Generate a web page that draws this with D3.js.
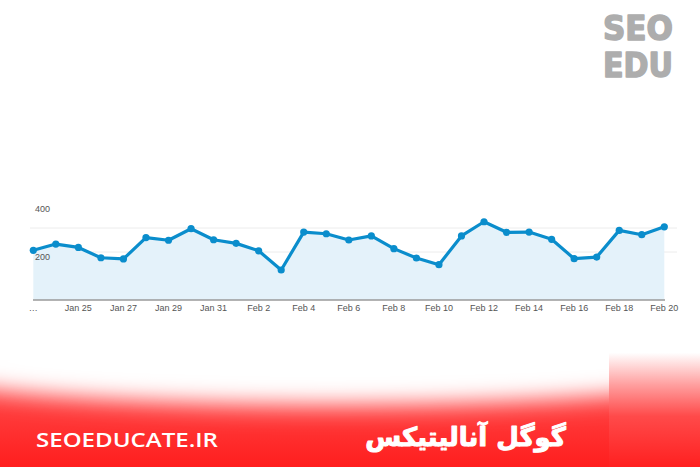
<!DOCTYPE html>
<html><head><meta charset="utf-8">
<script src="https://cdn.jsdelivr.net/npm/d3@7"></script>
<style>html,body{margin:0;padding:0;background:#fff;}svg{display:block;}</style>
</head><body>
<script>
const days = ["Jan 23","Jan 24","Jan 25","Jan 26","Jan 27","Jan 28","Jan 29","Jan 30","Jan 31",
  "Feb 1","Feb 2","Feb 3","Feb 4","Feb 5","Feb 6","Feb 7","Feb 8","Feb 9","Feb 10","Feb 11",
  "Feb 12","Feb 13","Feb 14","Feb 15","Feb 16","Feb 17","Feb 18","Feb 19","Feb 20"];
const sessions = [207,233,219,176,171,260,249,297,251,236,205,125,283,276,250,267,214,175,147,267,326,282,283,253,172,179,290,272,305];
const xTickDays = ["Jan 23","Jan 25","Jan 27","Jan 29","Jan 31","Feb 2","Feb 4","Feb 6","Feb 8","Feb 10","Feb 12","Feb 14","Feb 16","Feb 18","Feb 20"];
const xTickText = ["…","Jan 25","Jan 27","Jan 29","Jan 31","Feb 2","Feb 4","Feb 6","Feb 8","Feb 10","Feb 12","Feb 14","Feb 16","Feb 18","Feb 20"];
const yTickLabels = [400, 200];
const gridValues = [300, 200];
const logoLines = ["SEO","EDU"];
const siteText = "SEOEDUCATE.IR";
const titleText = "گوگل آنالیتیکس";

const W = 700, H = 467;
const svg = d3.select("body").append("svg").attr("width", W).attr("height", H);
const defs = svg.append("defs");

svg.append("rect").attr("width", W).attr("height", H).attr("fill", "#fff");

const g1 = defs.append("linearGradient").attr("id","redg").attr("x1",0).attr("y1",0).attr("x2",0).attr("y2",1);
[[0,"#ff6a6a"],[0.5,"#ff3a3a"],[1,"#ff1e1e"]].forEach(([o,c])=>g1.append("stop").attr("offset",o).attr("stop-color",c));
const g2 = defs.append("linearGradient").attr("id","redr").attr("x1",0).attr("y1",0).attr("x2",0).attr("y2",1);
[[0,"#ffffff"],[0.1,"#ffffff"],[0.35,"#ffa0a0"],[0.6,"#ff4a4a"],[1,"#ff2020"]].forEach(([o,c])=>g2.append("stop").attr("offset",o).attr("stop-color",c));

const blur = defs.append("filter").attr("id","bl").attr("x","-50%").attr("y","-50%").attr("width","200%").attr("height","200%");
blur.append("feGaussianBlur").attr("stdDeviation",13);
const clipL = defs.append("clipPath").attr("id","clipL");
clipL.append("rect").attr("x",0).attr("y",0).attr("width",609).attr("height",H);

const left = svg.append("g").attr("clip-path","url(#clipL)");
left.append("rect").attr("x",0).attr("y",360).attr("width",609).attr("height",H-360).attr("fill","url(#redg)");
left.append("rect").attr("x",0).attr("y",0).attr("width",609).attr("height",355).attr("fill","#fff");
left.append("ellipse").attr("cx",330).attr("cy",362).attr("rx",420).attr("ry",42)
  .attr("fill","#fff").attr("filter","url(#bl)");
left.append("ellipse").attr("cx",330).attr("cy",345).attr("rx",480).attr("ry",40)
  .attr("fill","#fff").attr("filter","url(#bl)");
svg.append("rect").attr("x",609).attr("y",340).attr("width",W-609).attr("height",H-340).attr("fill","url(#redr)");

// chart
const x = d3.scalePoint().domain(days).range([33.3, 664.3]);
const y = d3.scaleLinear().domain([0, 400]).range([300, 204]);

svg.append("g").selectAll("line").data(gridValues).join("line")
  .attr("x1", 30).attr("x2", 677).attr("y1", d=>y(d)).attr("y2", d=>y(d))
  .attr("stroke", "#ececec").attr("stroke-width", 1);

const area = d3.area().x((d,i)=>x(days[i])).y0(y(0)).y1(d=>y(d));
svg.append("path").datum(sessions).attr("d", area).attr("fill", "#e4f2fa");

svg.append("g").selectAll("text").data(yTickLabels).join("text")
  .attr("x", 35).attr("y", d=>y(d)+8).text(d=>d)
  .attr("font-family","Liberation Sans, Arial, sans-serif").attr("font-size",9).attr("fill","#555");

svg.append("line").attr("x1",33).attr("x2",665).attr("y1",y(0)).attr("y2",y(0))
  .attr("stroke","#9a9a9a").attr("stroke-width",1.5);

const line = d3.line().x((d,i)=>x(days[i])).y(d=>y(d));
svg.append("path").datum(sessions).attr("d", line).attr("fill","none")
  .attr("stroke","#0a8dcc").attr("stroke-width",3.2).attr("stroke-linejoin","round");
svg.append("g").selectAll("circle").data(sessions).join("circle")
  .attr("cx",(d,i)=>x(days[i])).attr("cy",d=>y(d)).attr("r",3.6).attr("fill","#0a8dcc");

svg.append("g").selectAll("text").data(xTickDays).join("text")
  .attr("x", d=>x(d)).attr("y", 311).attr("text-anchor","middle")
  .text((d,i)=>xTickText[i])
  .attr("font-family","Liberation Sans, Arial, sans-serif").attr("font-size",9).attr("fill","#555");

// logo
svg.append("g").selectAll("text").data(logoLines).join("text")
  .attr("x", 603).attr("y",(d,i)=>40 + i*37).text(d=>d)
  .attr("textLength",70).attr("lengthAdjust","spacingAndGlyphs")
  .attr("font-family","DejaVu Sans, sans-serif").attr("font-weight","bold").attr("font-size",34)
  .attr("fill","#adadad").attr("stroke","#adadad").attr("stroke-width",1.6).attr("stroke-linejoin","round");

// footer texts
svg.append("text").attr("x",36).attr("y",447).text(siteText)
  .attr("textLength",182).attr("lengthAdjust","spacingAndGlyphs")
  .attr("font-family","Open Sans, sans-serif").attr("font-weight",600).attr("font-size",19).attr("fill","#fff");
svg.append("text").attr("x",566).attr("y",446).attr("direction","rtl").attr("text-anchor","start").text(titleText)
  .attr("font-family","DejaVu Sans, sans-serif").attr("font-weight","bold").attr("font-size",26)
  .attr("fill","#fff").attr("stroke","#fff").attr("stroke-width",1).attr("stroke-linejoin","round");
</script>
</body></html>
